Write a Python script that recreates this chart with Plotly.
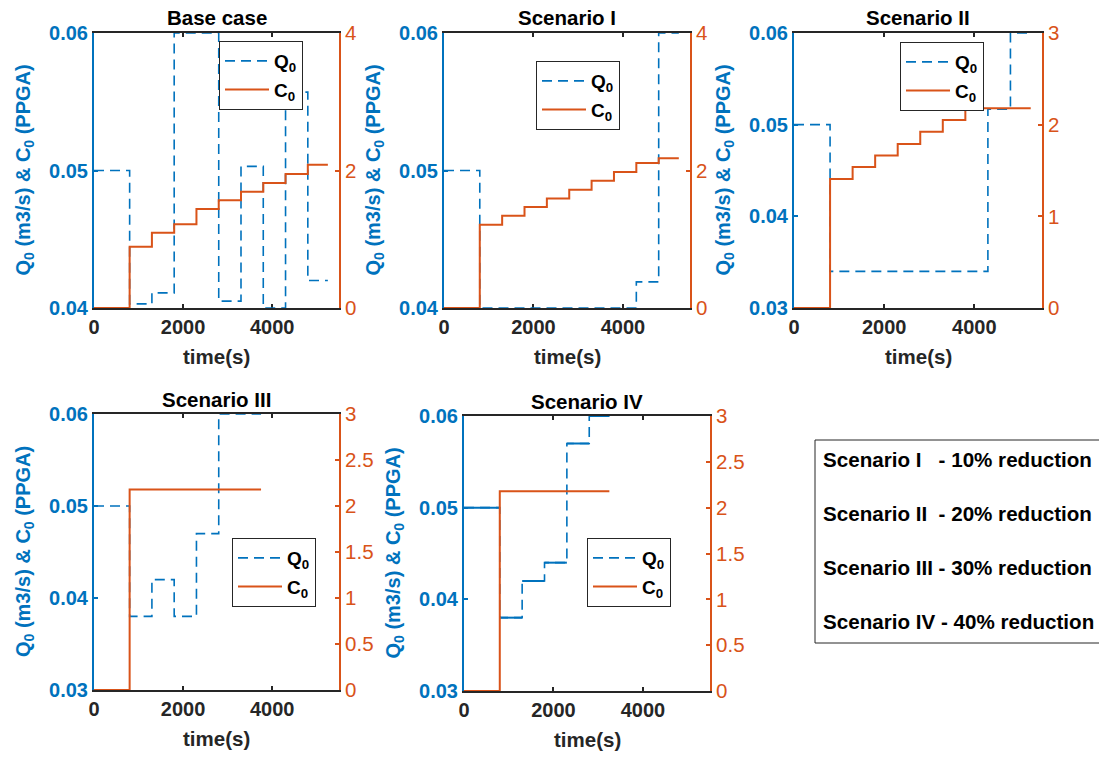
import plotly.graph_objects as go

# ---------------- data ----------------
panel_titles = ["Base case", "Scenario I", "Scenario II", "Scenario III", "Scenario IV"]

t_full = [0, 800, 1300, 1800, 2300, 2800, 3300, 3800, 4300, 4800, 5250]
q_base = [0.05, 0.0403, 0.0411, 0.06, 0.06, 0.0405, 0.0503, 0.04, 0.0557, 0.042, 0.042]
c_base = [0, 0.89, 1.095, 1.217, 1.44, 1.566, 1.69, 1.82, 1.95, 2.085, 2.085]

q_s1 = [0.05, 0.04, 0.04, 0.04, 0.04, 0.04, 0.04, 0.04, 0.0419, 0.06, 0.06]
c_s1 = [0, 1.21, 1.343, 1.469, 1.594, 1.72, 1.85, 1.98, 2.11, 2.18, 2.18]

q_s2 = [0.05, 0.034, 0.034, 0.034, 0.034, 0.034, 0.034, 0.034, 0.0517, 0.06, 0.06]
c_s2 = [0, 1.407, 1.538, 1.665, 1.79, 1.923, 2.05, 2.18, 2.18, 2.18, 2.18]

t_s3 = [0, 800, 1300, 1800, 2300, 2800, 3750]
q_s3 = [0.05, 0.038, 0.042, 0.038, 0.047, 0.06, 0.06]
c_s3 = [0, 2.18, 2.18, 2.18, 2.18, 2.18, 2.18]

t_s4 = [0, 800, 1300, 1800, 2300, 2800, 3250]
q_s4 = [0.05, 0.038, 0.042, 0.044, 0.057, 0.06, 0.06]
c_s4 = [0, 2.18, 2.18, 2.18, 2.18, 2.18, 2.18]

x_ticks = [0, 2000, 4000]
q_ticks_a = [0.04, 0.05, 0.06]
q_ticks_b = [0.03, 0.04, 0.05, 0.06]
c_ticks_a = [0, 2, 4]
c_ticks_b = [0, 1, 2, 3]
c_ticks_c = [0, 0.5, 1, 1.5, 2, 2.5, 3]

notes = ["Scenario I &nbsp;&nbsp;- 10% reduction",
         "Scenario II &nbsp;- 20% reduction",
         "Scenario III - 30% reduction",
         "Scenario IV - 40% reduction"]

# ---------------- layout / style ----------------
W, H = 1099, 757
BLUE = "#0072BD"
ORANGE = "#D95319"
DARK = "#262626"
FONT = "Liberation Sans, Arial, Helvetica, sans-serif"


def px(xp):
    return xp / W


def py(yp):
    return 1 - yp / H


series = [
    (t_full, q_base, c_base, [0.04, 0.06], q_ticks_a, [0, 4], c_ticks_a),
    (t_full, q_s1, c_s1, [0.04, 0.06], q_ticks_a, [0, 4], c_ticks_a),
    (t_full, q_s2, c_s2, [0.03, 0.06], q_ticks_b, [0, 3], c_ticks_b),
    (t_s3, q_s3, c_s3, [0.03, 0.06], q_ticks_b, [0, 3], c_ticks_c),
    (t_s4, q_s4, c_s4, [0.03, 0.06], q_ticks_b, [0, 3], c_ticks_c),
]
# pixel boxes: left, right, top, bottom
boxes = [(94, 339, 33, 308), (444, 690, 33, 308), (794, 1042, 33, 308),
         (94, 339, 414, 690), (464, 710, 416, 691)]
legend_pos = [(219, 41), (536, 61), (900, 42), (232, 538), (587, 538)]

fig = go.Figure()
layout = dict(
    width=W, height=H, margin=dict(l=0, r=0, t=0, b=0, pad=0, autoexpand=False),
    paper_bgcolor="white", plot_bgcolor="white",
    font=dict(family=FONT, size=20, color=DARK),
    annotations=[], shapes=[],
)

for i, (t, q, c, qr, qt, cr, ct) in enumerate(series):
    n = i + 1
    xa = "x" if n == 1 else f"x{n}"
    ya = "y" if n == 1 else f"y{2*n-1}"
    yb = f"y{2*n}"
    lg = "legend" if n == 1 else f"legend{n}"
    l, r, tp, bt = boxes[i]

    fig.add_trace(go.Scatter(
        x=t, y=q, mode="lines", line_shape="hv", name="Q<sub>0</sub>",
        line=dict(color=BLUE, width=1.6, dash="10px,6px"),
        xaxis=xa, yaxis=ya, legend=lg, legendgroup=f"q{n}"))
    if n == 5:
        # horizontal stretches of Q0 rendered solid in this panel
        hx, hy = [], []
        for k in range(len(t) - 1):
            hx += [t[k], t[k + 1], None]
            hy += [q[k], q[k], None]
        fig.add_trace(go.Scatter(
            x=hx, y=hy, mode="lines", showlegend=False,
            line=dict(color=BLUE, width=2), xaxis=xa, yaxis=ya, hoverinfo="skip"))
    fig.add_trace(go.Scatter(
        x=t, y=c, mode="lines", line_shape="hv", name="C<sub>0</sub>",
        line=dict(color=ORANGE, width=2),
        xaxis=xa, yaxis=yb, legend=lg, legendgroup=f"c{n}"))

    xkey = "xaxis" if n == 1 else f"xaxis{n}"
    yakey = "yaxis" if n == 1 else f"yaxis{2*n-1}"
    ybkey = f"yaxis{2*n}"
    layout[xkey] = dict(
        domain=[px(l), px(r)], anchor=ya, range=[0, 5500], tickvals=x_ticks,
        showline=True, linecolor=DARK, linewidth=1.8, mirror="ticks",
        ticks="inside", ticklen=4, tickcolor=DARK, tickwidth=1.5,
        tickfont=dict(family=FONT, size=20, color=DARK, weight="bold"),
        showgrid=False, zeroline=False, layer="below traces", fixedrange=True,
        automargin=False)
    layout[yakey] = dict(
        domain=[py(bt), py(tp)], anchor=xa, range=qr, tickvals=qt,
        tickformat=".2f", showline=True, linecolor=BLUE, linewidth=2,
        ticks="inside", ticklen=4, tickcolor=BLUE, tickwidth=1.5,
        tickfont=dict(family=FONT, size=20, color=BLUE, weight="bold"),
        showgrid=False, zeroline=False, layer="below traces", fixedrange=True,
        automargin=False)
    layout[ybkey] = dict(
        overlaying=ya, side="right", anchor=xa, range=cr, tickvals=ct,
        showline=True, linecolor=ORANGE, linewidth=2,
        ticks="inside", ticklen=4, tickcolor=ORANGE, tickwidth=1.5,
        tickfont=dict(family=FONT, size=20.5, color=ORANGE),
        showgrid=False, zeroline=False, layer="below traces", fixedrange=True,
        automargin=False)

    lx, ly = legend_pos[i]
    layout[lg] = dict(
        x=px(lx), y=py(ly), xanchor="left", yanchor="top",
        xref="paper", yref="paper",
        bgcolor="white", bordercolor=DARK, borderwidth=1,
        font=dict(family=FONT, size=19, color="black", weight="bold"),
        tracegroupgap=1, itemwidth=44)

    cx = (l + r) / 2
    layout["annotations"].append(dict(
        text=panel_titles[i], x=px(cx), y=py(tp - 15), xref="paper", yref="paper",
        showarrow=False, xanchor="center", yanchor="middle",
        font=dict(family=FONT, size=20.5, color="black", weight="bold")))
    layout["annotations"].append(dict(
        text="time(s)", x=px(cx), y=py(bt + 48), xref="paper", yref="paper",
        showarrow=False, xanchor="center", yanchor="middle",
        font=dict(family=FONT, size=20.5, color=DARK, weight="bold")))
    layout["annotations"].append(dict(
        text="Q<sub>0</sub> (m3/s) & C<sub>0</sub> (PPGA)",
        x=px(l - 70), y=py((tp + bt) / 2), xref="paper", yref="paper",
        showarrow=False, xanchor="center", yanchor="middle", textangle=-90,
        font=dict(family=FONT, size=20, color=BLUE, weight="bold")))

# note box
layout["shapes"].append(dict(
    type="rect", xref="paper", yref="paper",
    x0=px(815), x1=px(1103), y0=py(643), y1=py(440),
    line=dict(color=DARK, width=1), fillcolor="white", layer="below"))
for k, txt in enumerate(notes):
    layout["annotations"].append(dict(
        text=txt, x=px(821), y=py(459 + 54 * k), xref="paper", yref="paper",
        showarrow=False, xanchor="left", yanchor="middle",
        font=dict(family=FONT, size=20.6, color="black", weight="bold")))

fig.update_layout(**layout)
fig.write_html(
    "out.html",
    config={"displayModeBar": False},
    post_script="document.body.style.margin='0';document.body.style.overflow='hidden';",
)
